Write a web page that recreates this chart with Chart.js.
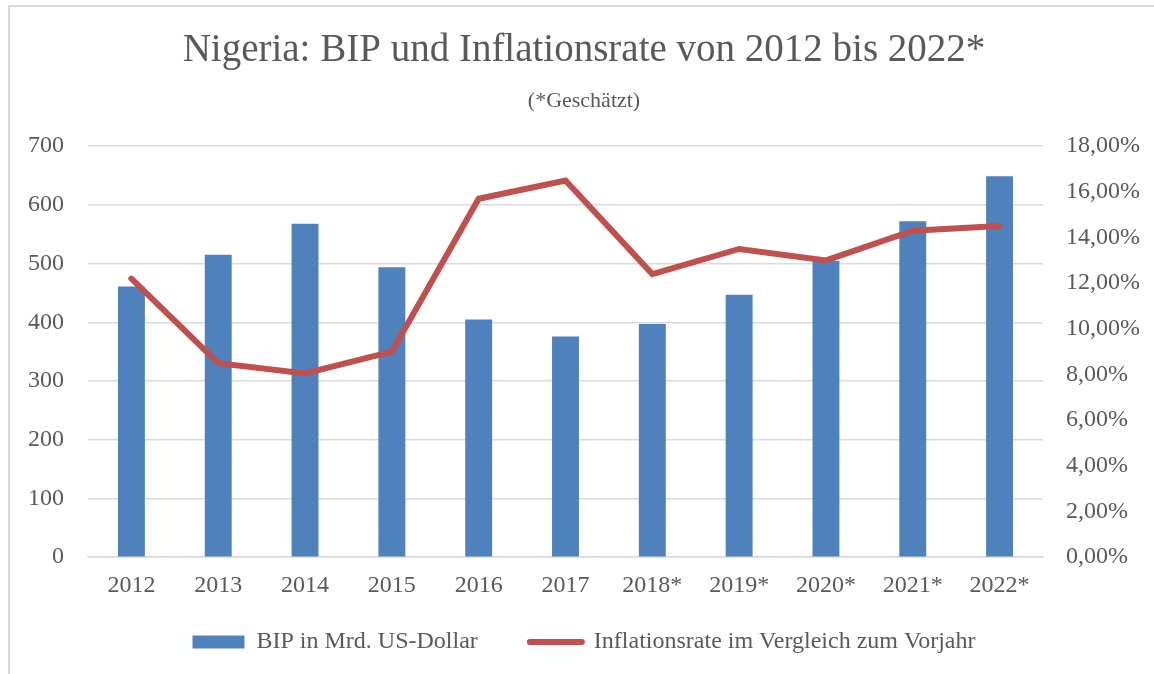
<!DOCTYPE html>
<html>
<head>
<meta charset="utf-8">
<script src="https://cdn.jsdelivr.net/npm/chart.js@4"></script>
<style>
body{margin:0;background:#fff;overflow:hidden}
#frame{position:absolute;left:8px;top:5px;width:1200px;height:720px;border:2px solid #d9d9d9}
#wrap{position:absolute;left:0;top:0;width:1154px;height:674px}
</style>
</head>
<body>
<div id="frame"></div>
<div id="wrap"><canvas id="myChart"></canvas></div>
<script>
let years = ["2012", "2013", "2014", "2015", "2016", "2017", "2018*", "2019*", "2020*", "2021*", "2022*"];
let bip = [461, 515, 568, 494, 405, 376, 397, 447, 505, 572, 649];
let inflation = [12.2, 8.5, 8.05, 9.0, 15.7, 16.5, 12.4, 13.5, 13.0, 14.3, 14.5];

let blue = "#4f81bd", red = "#c0504d", grey = "#595959";

Chart.defaults.font.family = "'Liberation Serif', serif";
Chart.defaults.color = grey;

let ctx = document.getElementById("myChart").getContext("2d");

new Chart(ctx, {
	data: {
		labels: years,
		datasets: [{
			type: "bar",
			label: "BIP in Mrd. US-Dollar",
			data: bip,
			backgroundColor: blue,
			borderWidth: 0,
			barPercentage: 0.31,
			categoryPercentage: 1,
			yAxisID: "y",
			pointStyle: "rect",
			order: 1
		}, {
			type: "line",
			label: "Inflationsrate im Vergleich zum Vorjahr",
			data: inflation,
			borderColor: red,
			backgroundColor: red,
			borderWidth: 6,
			borderCapStyle: "round",
			pointRadius: 0,
			pointHoverRadius: 0,
			pointStyle: "line",
			tension: 0,
			fill: false,
			yAxisID: "y1",
			order: 0
		}]
	},
	options: {
		responsive: true,
		maintainAspectRatio: false,
		animation: false,
		layout: { padding: { left: 14, right: 0, top: 0, bottom: 10 } },
		plugins: {
			title: {
				display: true,
				text: "Nigeria: BIP und Inflationsrate von 2012 bis 2022*",
				font: { size: 39, weight: "normal" },
				color: grey,
				padding: { top: 27, bottom: 9 }
			},
			subtitle: {
				display: true,
				text: "(*Geschätzt)",
				font: { size: 22 },
				color: grey,
				padding: { top: 5, bottom: 32 }
			},
			legend: {
				position: "bottom",
				labels: {
					font: { size: 24 },
					color: grey,
					usePointStyle: true,
					pointStyleWidth: 52,
					boxHeight: 13,
					padding: 16,
					sort: function(a, b) { return a.datasetIndex - b.datasetIndex; },
					generateLabels: function(chart) {
						let items = Chart.defaults.plugins.legend.labels.generateLabels(chart);
						items.forEach(function(item) {
							if (item.datasetIndex === 0) {
								item.lineWidth = 0;
								item.text = item.text + "      ";
							} else {
								item.lineWidth = 6;
								item.lineCap = "round";
								item.strokeStyle = red;
							}
						});
						return items;
					}
				}
			},
			tooltip: { enabled: false }
		},
		scales: {
			x: {
				grid: { display: false, drawTicks: false },
				border: { color: "#d9d9d9", width: 1.5 },
				ticks: { font: { size: 24 }, padding: 14, maxRotation: 0 }
			},
			y: {
				position: "left",
				min: 0,
				max: 700,
				ticks: { stepSize: 100, font: { size: 24 }, padding: 24 },
				grid: { color: "#d9d9d9", lineWidth: 1.5, drawTicks: false },
				border: { display: false },
				afterFit: function(s) { s.width = 74; }
			},
			y1: {
				position: "right",
				min: 0,
				max: 18,
				ticks: {
					stepSize: 2,
					font: { size: 24 },
					padding: 23,
					callback: function(v) { return v.toFixed(2).replace(".", ",") + "%"; }
				},
				grid: { drawOnChartArea: false, drawTicks: false },
				border: { display: false },
				afterFit: function(s) { s.width = 111; }
			}
		}
	}
});
</script>
</body>
</html>
